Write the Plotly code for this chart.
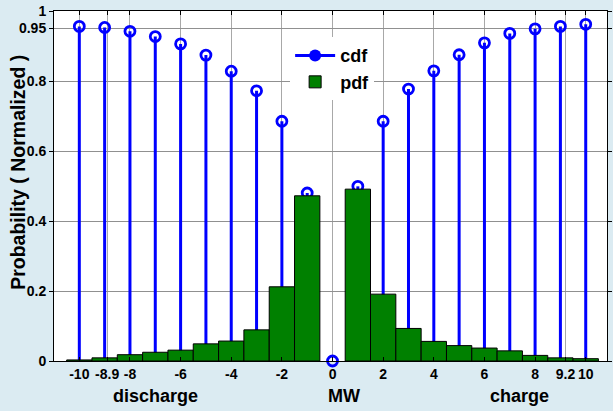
import plotly.graph_objects as go

# ---- data ----
cdf_x = [-10, -9, -8, -7, -6, -5, -4, -3, -2, -1, 0, 1, 2, 3, 4, 5, 6, 7, 8, 9, 10]
cdf_y = [0.956, 0.953, 0.942, 0.927, 0.906, 0.874, 0.828, 0.772, 0.685, 0.480, 0.0,
         0.499, 0.685, 0.777, 0.829, 0.875, 0.909, 0.936, 0.949, 0.956, 0.962]

pdf_x = [-10, -9, -8, -7, -6, -5, -4, -3, -2, -1, 1, 2, 3, 4, 5, 6, 7, 8, 9, 10]
pdf_y = [0.003, 0.009, 0.018, 0.025, 0.031, 0.049, 0.057, 0.089, 0.212, 0.472,
         0.491, 0.191, 0.093, 0.056, 0.044, 0.037, 0.029, 0.016, 0.009, 0.0066]

x_tickvals = [-10, -8.9, -8, -6, -4, -2, 0, 2, 4, 6, 8, 9.2, 10]
x_ticktext = ["-10", "-8.9", "-8", "-6", "-4", "-2", "0", "2", "4", "6", "8", "9.2", "10"]
y_tickvals = [0, 0.2, 0.4, 0.6, 0.8, 0.95, 1]
y_ticktext = ["0", "0.2", "0.4", "0.6", "0.8", "0.95", "1"]

FONT = "Liberation Sans, Arial, sans-serif"
BLUE = "#0000FF"
GREEN = "#008000"
BG = "#DBEBF2"
XR = [-11.0, 10.84]
YR = [0, 1]

# stems built from the data
stem_x, stem_y = [], []
for xv, yv in zip(cdf_x, cdf_y):
    stem_x += [xv, xv, None]
    stem_y += [0, yv, None]

fig = go.Figure()
fig.add_trace(go.Scatter(x=stem_x, y=stem_y, mode="lines",
                         line=dict(color=BLUE, width=3), showlegend=False,
                         hoverinfo="skip"))
fig.add_trace(go.Scatter(x=cdf_x, y=cdf_y, mode="markers",
                         marker=dict(symbol="circle-open", size=10, color=BLUE,
                                     line=dict(width=2.8, color=BLUE)),
                         showlegend=False, cliponaxis=False))
# legend entry for cdf
fig.add_trace(go.Scatter(x=[None], y=[None], mode="lines+markers", name="cdf",
                         line=dict(color=BLUE, width=3),
                         marker=dict(symbol="circle", size=12, color=BLUE)))
# bars on overlay axes so they sit above the stems
fig.add_trace(go.Bar(x=pdf_x, y=pdf_y, width=1, name="pdf",
                     marker=dict(color=GREEN, line=dict(color="black", width=1)),
                     xaxis="x2", yaxis="y2"))

tickfont = dict(family=FONT, size=14, color="black", weight="bold")

fig.update_layout(
    width=613, height=411,
    margin=dict(l=54, r=1, t=11, b=50),
    paper_bgcolor=BG,
    plot_bgcolor="white",
    showlegend=True,
    barmode="overlay",
    legend=dict(x=0.427, y=0.925, xanchor="left", yanchor="top",
                bgcolor="white", borderwidth=0,
                font=dict(family=FONT, size=18, color="black", weight="bold"),
                traceorder="normal", itemwidth=40),
    xaxis=dict(range=XR, tickmode="array", tickvals=x_tickvals, ticktext=x_ticktext,
               tickangle=0, tickfont=tickfont, showgrid=True, gridcolor="#A8A8A8",
               gridwidth=1, zeroline=False, showline=True, linecolor="black",
               linewidth=1, mirror="ticks", ticks="inside", ticklen=4,
               tickcolor="black"),
    yaxis=dict(range=YR, tickmode="array", tickvals=y_tickvals, ticktext=y_ticktext,
               tickfont=tickfont, showgrid=True, gridcolor="#909090", gridwidth=1,
               zeroline=False, showline=True, linecolor="black", linewidth=1,
               mirror="ticks", ticks="outside", ticklen=4, tickcolor="black"),
    xaxis2=dict(range=XR, overlaying="x", anchor="y2", visible=False),
    yaxis2=dict(range=YR, overlaying="y", anchor="x2", visible=False),
)

afont = dict(family=FONT, size=18, color="black", weight="bold")
fig.add_annotation(text="discharge", x=(156 - 54) / 558, y=-(396 - 361) / 350,
                   xref="paper", yref="paper", showarrow=False, font=afont,
                   xanchor="center", yanchor="middle")
fig.add_annotation(text="MW", x=(346.5 - 54) / 558, y=-(396 - 361) / 350,
                   xref="paper", yref="paper", showarrow=False, font=afont,
                   xanchor="center", yanchor="middle")
fig.add_annotation(text="charge", x=(524 - 54) / 558, y=-(396 - 361) / 350,
                   xref="paper", yref="paper", showarrow=False, font=afont,
                   xanchor="center", yanchor="middle")
fig.add_annotation(text="Probability ( Normalized )", textangle=-90,
                   x=(17 - 54) / 558, y=(361 - 172.5) / 350,
                   xref="paper", yref="paper", showarrow=False,
                   font=dict(family=FONT, size=19.5, color="black", weight="bold"),
                   xanchor="center", yanchor="middle")

post = ("document.body.style.margin='0';"
        "document.body.style.padding='0';"
        "document.body.style.overflow='hidden';"
        "document.body.style.backgroundColor='" + BG + "';"
        "document.documentElement.style.backgroundColor='" + BG + "';")

fig.write_html("out.html", post_script=post, config={"displayModeBar": False})
